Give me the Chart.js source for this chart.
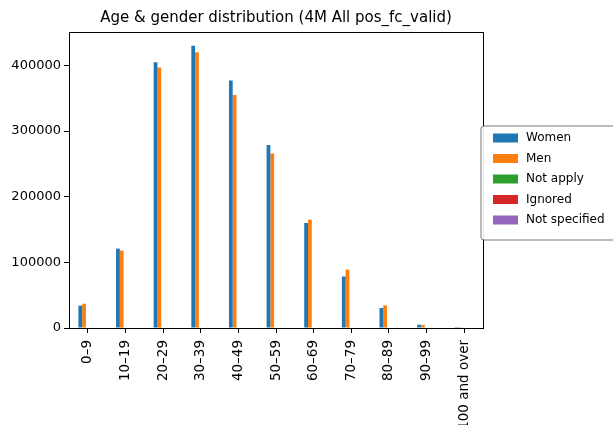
<!DOCTYPE html>
<html>
<head>
<meta charset="utf-8">
<script src="https://cdn.jsdelivr.net/npm/chart.js@4"></script>
<style>
  html, body { margin: 0; padding: 0; background: #fff; }
  #wrap { width: 613px; height: 425px; }
</style>
</head>
<body>
<div id="wrap"><canvas id="ageChart" width="613" height="425"></canvas></div>
<script>
// Chart data
const ageGroups = ['0–9', '10–19', '20–29', '30–39', '40–49', '50–59', '60–69', '70–79', '80–89', '90–99', '100 and over'];
const women = [34000, 121000, 405000, 430000, 377000, 279000, 160000, 78500, 30500, 5000, 200];
const men = [37000, 118000, 397000, 420000, 355000, 266000, 165000, 89000, 34500, 4800, 150];
const notApply = [0, 0, 0, 0, 0, 0, 0, 0, 0, 0, 0];
const ignored = [0, 0, 0, 0, 0, 0, 0, 0, 0, 0, 0];
const notSpecified = [0, 0, 0, 0, 0, 0, 0, 0, 0, 0, 0];
const yTicks = [0, 100000, 200000, 300000, 400000];
const yMax = 451000;

const chartTitle = 'Age & gender distribution (4M All pos_fc_valid)';
const fontFamily = '"DejaVu Sans", sans-serif';

// Draws the matplotlib style frame, title and legend
const mplLook = {
  id: 'mplLook',
  afterDraw(chart) {
    const ctx = chart.ctx;
    const area = chart.chartArea;
    ctx.save();

    // top + right spines
    ctx.strokeStyle = '#000';
    ctx.lineWidth = 1;
    ctx.strokeRect(Math.round(area.left) + 0.5, Math.round(area.top) + 0.5,
      Math.round(area.right - area.left), Math.round(area.bottom - area.top));

    // title
    ctx.fillStyle = '#000';
    ctx.font = '15px ' + fontFamily;
    ctx.textAlign = 'center';
    ctx.textBaseline = 'middle';
    ctx.fillText(chartTitle, (area.left + area.right) / 2, 18);

    // legend frame
    const lx = 481, ly = 126, lw = 140, lh = 114, r = 3;
    ctx.beginPath();
    ctx.moveTo(lx + r, ly);
    ctx.lineTo(lx + lw - r, ly);
    ctx.arcTo(lx + lw, ly, lx + lw, ly + r, r);
    ctx.lineTo(lx + lw, ly + lh - r);
    ctx.arcTo(lx + lw, ly + lh, lx + lw - r, ly + lh, r);
    ctx.lineTo(lx + r, ly + lh);
    ctx.arcTo(lx, ly + lh, lx, ly + lh - r, r);
    ctx.lineTo(lx, ly + r);
    ctx.arcTo(lx, ly, lx + r, ly, r);
    ctx.closePath();
    ctx.fillStyle = 'rgba(255,255,255,0.9)';
    ctx.fill();
    ctx.strokeStyle = '#777';
    ctx.stroke();

    // legend entries
    ctx.font = '12px ' + fontFamily;
    ctx.textAlign = 'left';
    chart.data.datasets.forEach((ds, i) => {
      const cy = 138 + i * 20.5;
      ctx.fillStyle = ds.backgroundColor;
      ctx.fillRect(493, cy - 4.5, 25, 9);
      ctx.fillStyle = '#000';
      ctx.fillText(ds.label, 526, cy);
    });
    ctx.restore();
  }
};

new Chart(document.getElementById('ageChart'), {
  type: 'bar',
  data: {
    labels: ageGroups,
    datasets: [
      { label: 'Women', data: women, backgroundColor: '#1f77b4' },
      { label: 'Men', data: men, backgroundColor: '#ff7f0e' },
      { label: 'Not apply', data: notApply, backgroundColor: '#2ca02c' },
      { label: 'Ignored', data: ignored, backgroundColor: '#d62728' },
      { label: 'Not specified', data: notSpecified, backgroundColor: '#9467bd' }
    ]
  },
  options: {
    responsive: false,
    animation: false,
    devicePixelRatio: 1,
    layout: { padding: { top: 32, right: 130, left: 0, bottom: 0 } },
    datasets: {
      bar: { categoryPercentage: 0.5, barPercentage: 1.0, borderWidth: 0 }
    },
    plugins: {
      legend: { display: false },
      title: { display: false },
      tooltip: { enabled: false }
    },
    scales: {
      x: {
        offset: true,
        grid: { offset: false, drawOnChartArea: false, drawTicks: true, tickLength: 5, color: '#000' },
        border: { color: '#000', width: 1 },
        ticks: {
          color: '#000',
          font: { family: fontFamily, size: 13.5 },
          minRotation: 90,
          maxRotation: 90,
          autoSkip: false,
          padding: 7
        },
        afterFit(scale) { scale.height = 97; }
      },
      y: {
        min: 0,
        max: yMax,
        grid: { drawOnChartArea: false, drawTicks: true, tickLength: 5, color: '#000' },
        border: { color: '#000', width: 1 },
        ticks: {
          color: '#000',
          font: { family: fontFamily, size: 13 },
          padding: 3,
          callback: v => String(v)
        },
        afterBuildTicks(scale) { scale.ticks = yTicks.map(v => ({ value: v })); },
        afterFit(scale) { scale.width = 69; }
      }
    }
  },
  plugins: [mplLook]
});
</script>
</body>
</html>
